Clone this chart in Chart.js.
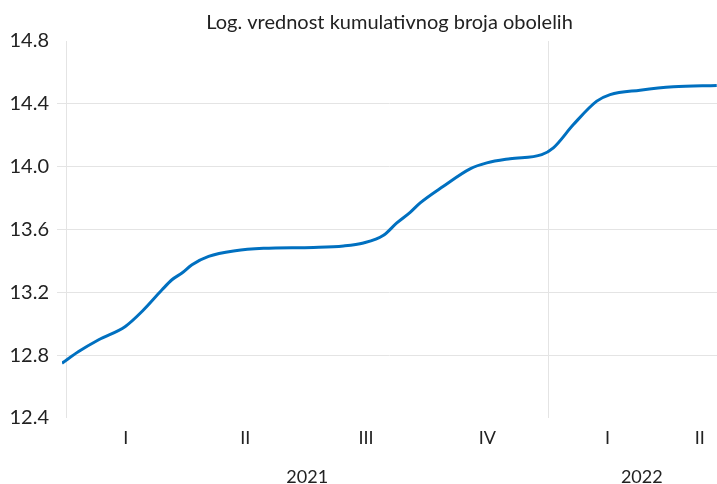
<!DOCTYPE html>
<html>
<head>
<meta charset="utf-8">
<script src="https://cdn.jsdelivr.net/npm/chart.js@4.4.0/dist/chart.umd.min.js"></script>
<style>
  html, body { margin: 0; padding: 0; background: #fff; }
</style>
</head>
<body>
<canvas id="logChart" width="717" height="484"></canvas>
<script>
// day number counted from 1 Jan 2021
const days = [-3.3, 9.3, 24.5, 44.7, 57.3, 72.5, 80, 87.6, 95.2, 107.8, 128, 149.4,
  187.3, 210, 225.1, 240.3, 250.4, 260.5, 268.1, 285.7, 305.9, 318.6, 336.2,
  360.2, 369, 384.2, 401.9, 412, 434.7, 459.9, 492.8];
// log of the cumulative number of cases
const logCases = [12.749, 12.823, 12.898, 12.983, 13.078, 13.216, 13.28, 13.323,
  13.376, 13.429, 13.465, 13.48, 13.486, 13.495, 13.514, 13.563, 13.642, 13.709,
  13.769, 13.875, 13.986, 14.024, 14.051, 14.077, 14.12, 14.268, 14.417, 14.459,
  14.487, 14.508, 14.517];

const quarterLabels = ["I", "II", "III", "IV", "I", "II"];
const quarterCenters = [45, 135.5, 227, 319, 410, 480];
const yearLabels = ["2021", "2022"];
const yearCenters = [182.5, 436];
const yearBounds = [0, 365];
const yTicks = [12.4, 12.8, 13.2, 13.6, 14.0, 14.4, 14.8];

const fontFamily = "Lato, 'Open Sans', sans-serif";
const textColor = "#222222";
const gridColor = "#e4e4e4";
const xMin = -3.3;
const xMax = 493;

const ctx = document.getElementById("logChart").getContext("2d");

new Chart(ctx, {
  type: "line",
  data: {
    datasets: [
      {
        data: days.map((d, i) => ({ x: d, y: logCases[i] })),
        borderColor: "#0070c0",
        borderWidth: 3,
        pointRadius: 0,
        cubicInterpolationMode: "monotone",
        fill: false,
      },
    ],
  },
  options: {
    responsive: false,
    animation: false,
    events: [],
    layout: { padding: 0 },
    scales: {
      x: {
        type: "linear",
        min: xMin,
        max: xMax,
        weight: 0,
        afterBuildTicks: (scale) => {
          scale.ticks = yearBounds
            .concat(quarterCenters)
            .sort((a, b) => a - b)
            .map((v) => ({ value: v }));
        },
        ticks: {
          autoSkip: false,
          maxRotation: 0,
          padding: 9,
          color: textColor,
          font: { family: fontFamily, size: 18 },
          callback: (v) => {
            const i = quarterCenters.indexOf(v);
            return i >= 0 ? quarterLabels[i] : "";
          },
        },
        grid: {
          drawTicks: false,
          color: (c) =>
            c.tick && yearBounds.includes(c.tick.value) ? gridColor : "transparent",
        },
        border: { display: false },
        afterFit: (scale) => {
          scale.height = 31;
        },
      },
      year: {
        type: "linear",
        position: "bottom",
        min: xMin,
        max: xMax,
        weight: 1,
        afterBuildTicks: (scale) => {
          scale.ticks = yearCenters.map((v) => ({ value: v }));
        },
        ticks: {
          autoSkip: false,
          maxRotation: 0,
          padding: 17,
          color: textColor,
          font: { family: fontFamily, size: 18 },
          callback: (v) => {
            const i = yearCenters.indexOf(v);
            return i >= 0 ? yearLabels[i] : "";
          },
        },
        grid: { display: false, drawTicks: false },
        border: { display: false },
        afterFit: (scale) => {
          scale.height = 35;
        },
      },
      y: {
        min: 12.4,
        max: 14.8,
        afterBuildTicks: (scale) => {
          scale.ticks = yTicks.map((v) => ({ value: v }));
        },
        ticks: {
          padding: 8,
          color: textColor,
          font: { family: fontFamily, size: 20 },
          callback: (v) => v.toFixed(1),
        },
        grid: {
          tickLength: 5,
          color: (c) =>
            c.tick && c.tick.value > 12.5 && c.tick.value < 14.7
              ? gridColor
              : "transparent",
        },
        border: { display: false },
        afterFit: (scale) => {
          scale.width = 62;
        },
      },
    },
    plugins: {
      legend: { display: false },
      tooltip: { enabled: false },
      title: {
        display: true,
        fullSize: false,
        text: "Log. vrednost kumulativnog broja obolelih",
        color: textColor,
        font: { family: fontFamily, size: 20, weight: "normal" },
        padding: { top: 11, bottom: 6 },
      },
    },
  },
});
</script>
</body>
</html>
